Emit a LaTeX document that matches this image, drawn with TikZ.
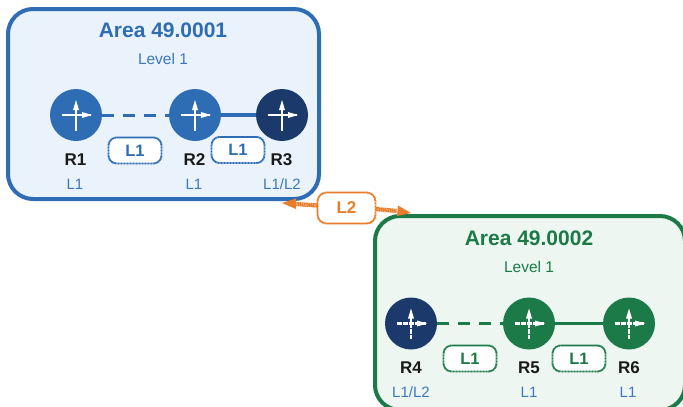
\documentclass[tikz,border=0pt]{standalone}
\usepackage{fontspec}
\setmainfont{Liberation Sans}
\usetikzlibrary{arrows.meta}
\definecolor{cblue}{HTML}{2E6DB4}
\definecolor{cnavy}{HTML}{1B3A6B}
\definecolor{cgreen}{HTML}{1B7A47}
\definecolor{cfillb}{HTML}{EAF2FB}
\definecolor{cfillg}{HTML}{EDF6F0}
\definecolor{corange}{HTML}{E97D2B}
\definecolor{clabel}{HTML}{3D78BE}
\definecolor{cdark}{HTML}{1A1A1A}
\tikzset{
  areabox/.style={draw=#1,line width=4pt,rounded corners=25pt,inner sep=0pt,outer sep=0pt},
  areatitle/.style={text=#1,font=\fontsize{21}{23}\selectfont\bfseries,inner sep=0pt},
  leveltext/.style={text=#1,font=\fontsize{15.5}{17}\selectfont,inner sep=0pt},
  router/.style 2 args={circle,fill=#1,minimum size=52pt,inner sep=0pt,outer sep=0pt,
    path picture={
      \draw[white,line width=2.6pt,#2]
        ([xshift=-14.5pt]path picture bounding box.center) -- ([xshift=15pt]path picture bounding box.center);
      \draw[white,line width=2.6pt,#2]
        ([yshift=-15.5pt]path picture bounding box.center) -- ([yshift=10pt]path picture bounding box.center);
      \fill[white] ([xshift=16pt]path picture bounding box.center) -- ([xshift=6pt,yshift=3pt]path picture bounding box.center) -- ([xshift=6pt,yshift=-3pt]path picture bounding box.center) -- cycle;
      \fill[white] ([yshift=15pt]path picture bounding box.center) -- ([yshift=5pt,xshift=3pt]path picture bounding box.center) -- ([yshift=5pt,xshift=-3pt]path picture bounding box.center) -- cycle;
    }},
  solidicon/.style={},
  doticon/.style={dash pattern=on 0.9pt off 0.3pt},
  rname/.style={text=cdark,font=\fontsize{17}{19}\selectfont\bfseries,inner sep=0pt},
  rlevel/.style={text=clabel,font=\fontsize{15}{17}\selectfont,inner sep=0pt},
  badge/.style={draw=#1,fill=white,text=#1,line width=1.9pt,dash pattern=on 1.1pt off 0.4pt,
    rounded corners=8pt,minimum width=53pt,minimum height=26pt,inner sep=0pt,outer sep=0pt,
    font=\fontsize{16.5}{18}\selectfont\bfseries},
  dashlink/.style={draw=#1,line width=3pt,dash pattern=on 12pt off 9pt},
  dotlink/.style={draw=#1,line width=3.2pt,dash pattern=on 0.8pt off 0.2pt},
  l2link/.style={draw=corange,line width=4.2pt,dash pattern=on 1.4pt off 0.4pt},
  l2tip/.style={fill=corange,draw=none},
}
\begin{document}
\begin{tikzpicture}[x=1pt,y=-1pt]
\useasboundingbox (0,0) rectangle (683,407);
\fill[white] (0,0) rectangle (683,407);
\node[areabox=cblue,fill=cfillb,minimum width=311pt,minimum height=190pt] (areaA) at (163.5,104) {};
\node[areabox=cgreen,fill=cfillg,minimum width=310pt,minimum height=194pt] (areaB) at (530,313) {};
\node[areatitle=cblue] (titleA) at (163,30) {Area 49.0001};
\node[leveltext=clabel] (levelA) at (163,58.5) {Level 1};
\node[areatitle=cgreen] (titleB) at (529,238) {Area 49.0002};
\node[leveltext=cgreen] (levelB) at (529,266.5) {Level 1};
\node[router={cblue}{solidicon}] (r1) at (76,115) {};
\node[router={cblue}{solidicon}] (r2) at (195,115) {};
\node[router={cnavy}{solidicon}] (r3) at (282,115) {};
\node[router={cnavy}{doticon}] (r4) at (411,323.5) {};
\node[router={cgreen}{doticon}] (r5) at (529,323.5) {};
\node[router={cgreen}{doticon}] (r6) at (629,323.5) {};
\draw[dashlink=cblue] (r1) -- (r2);
\draw[dotlink=cblue] (r2) -- (r3);
\draw[dashlink=cgreen] (r4) -- (r5);
\draw[dotlink=cgreen] (r5) -- (r6);
\node[rname] (n1) at (75.5,160) {R1};
\node[rname] (n2) at (194.5,160) {R2};
\node[rname] (n3) at (281.5,160) {R3};
\node[rname] (n4) at (411,367.5) {R4};
\node[rname] (n5) at (529,367.5) {R5};
\node[rname] (n6) at (629,367.5) {R6};
\node[rlevel] (l1) at (75,184.5) {L1};
\node[rlevel] (l2) at (194,184.5) {L1};
\node[rlevel] (l3) at (282,184.5) {L1/L2};
\node[rlevel] (l4) at (411,392.5) {L1/L2};
\node[rlevel] (l5) at (529,392.5) {L1};
\node[rlevel] (l6) at (628,392.5) {L1};
\node[badge=cblue] (b1) at (135,150.5) {L1};
\node[badge=cblue] (b2) at (238,150) {L1};
\node[badge=cgreen] (b3) at (470,358.5) {L1};
\node[badge=cgreen] (b4) at (579,358.5) {L1};
\node[badge=corange,minimum width=58pt,minimum height=31pt,rounded corners=9pt,font=\fontsize{17}{19}\selectfont\bfseries] (b5) at (346.5,208) {L2};
\coordinate (tipL) at (282,203);
\coordinate (tipR) at (411,213);
\coordinate (neckL) at (296,204);
\coordinate (neckR) at (397,211);
\draw[l2link] (b5.west |- 0,205.5) -- (neckL);
\draw[l2link] (b5.east |- 0,209) -- (neckR);
\fill[l2tip] (tipL) -- (296,198.5) -- (296,209) -- cycle;
\fill[l2tip] (tipR) -- (398,205.5) -- (397,216) -- cycle;
\end{tikzpicture}
\end{document}
